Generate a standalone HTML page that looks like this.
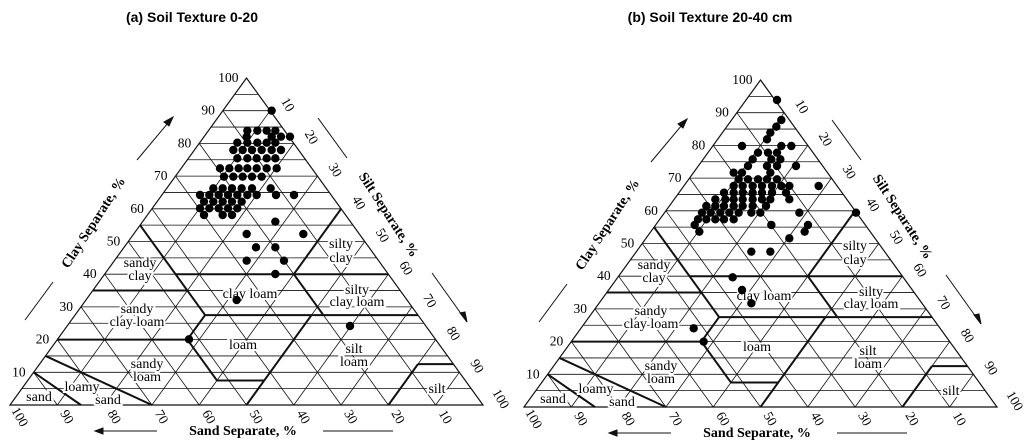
<!DOCTYPE html>
<html><head><meta charset="utf-8"><style>
html,body{margin:0;padding:0;background:#fff;width:1024px;height:442px;overflow:hidden}
svg{display:block}
.t{font-family:"Liberation Sans",Arial,sans-serif;font-weight:bold;font-size:14px}
.n{font-family:"Liberation Serif",serif;font-size:13.5px}
.ax{font-family:"Liberation Serif",serif;font-weight:bold;font-size:14px}
.r{font-family:"Liberation Serif",serif;font-size:14px;text-anchor:middle;paint-order:stroke;stroke:#fff;stroke-width:4px}
</style></head><body>
<svg id="s" width="1024" height="442" viewBox="0 0 1024 442" xmlns="http://www.w3.org/2000/svg">
<text class="t" x="192" y="22" text-anchor="middle">(a) Soil Texture 0-20</text>
<text class="t" x="710" y="22" text-anchor="middle">(b) Soil Texture 20-40 cm</text>
<g id="g1">
 <g class="tri" transform="translate(10,405)"></g>
 <g class="labs">
  <text class="n cl">10</text><text class="n cl">20</text><text class="n cl">30</text><text class="n cl">40</text><text class="n cl">50</text><text class="n cl">60</text><text class="n cl">70</text><text class="n cl">80</text><text class="n cl">90</text><text class="n cl">100</text>
  <text class="n sl">10</text><text class="n sl">20</text><text class="n sl">30</text><text class="n sl">40</text><text class="n sl">50</text><text class="n sl">60</text><text class="n sl">70</text><text class="n sl">80</text><text class="n sl">90</text><text class="n sl">100</text>
  <text class="n sd">10</text><text class="n sd">20</text><text class="n sd">30</text><text class="n sd">40</text><text class="n sd">50</text><text class="n sd">60</text><text class="n sd">70</text><text class="n sd">80</text><text class="n sd">90</text><text class="n sd">100</text>
  <text class="ax" text-anchor="middle" transform="translate(97,225) rotate(-57)">Clay Separate, %</text>
  <text class="ax" text-anchor="middle" transform="translate(385,217) rotate(57)">Silt Separate, %</text>
  <text class="ax" text-anchor="middle" x="243" y="435">Sand Separate, %</text>
  <text class="r" x="140" y="267">sandy</text><text class="r" x="140" y="280">clay</text>
  <text class="r" x="137" y="313">sandy</text><text class="r" x="137" y="326">clay loam</text>
  <text class="r" x="341" y="248">silty</text><text class="r" x="341" y="262">clay</text>
  <text class="r" x="250" y="298">clay loam</text>
  <text class="r" x="357" y="294">silty</text><text class="r" x="357" y="306">clay loam</text>
  <text class="r" x="243" y="349">loam</text>
  <text class="r" x="354" y="353">silt</text><text class="r" x="354" y="366">loam</text>
  <text class="r" x="147" y="368">sandy</text><text class="r" x="147" y="381">loam</text>
  <text class="r" x="82" y="391">loamy</text>
  <text class="r" x="39" y="401">sand</text><text class="r" x="108" y="404">sand</text>
  <text class="r" x="437" y="393">silt</text>
 </g>
</g>
<g id="g2" transform="translate(514,2)">
 <g class="tri" transform="translate(10,405)"></g>
 <g class="labs">
  <text class="n cl">10</text><text class="n cl">20</text><text class="n cl">30</text><text class="n cl">40</text><text class="n cl">50</text><text class="n cl">60</text><text class="n cl">70</text><text class="n cl">80</text><text class="n cl">90</text><text class="n cl">100</text>
  <text class="n sl">10</text><text class="n sl">20</text><text class="n sl">30</text><text class="n sl">40</text><text class="n sl">50</text><text class="n sl">60</text><text class="n sl">70</text><text class="n sl">80</text><text class="n sl">90</text><text class="n sl">100</text>
  <text class="n sd">10</text><text class="n sd">20</text><text class="n sd">30</text><text class="n sd">40</text><text class="n sd">50</text><text class="n sd">60</text><text class="n sd">70</text><text class="n sd">80</text><text class="n sd">90</text><text class="n sd">100</text>
  <text class="ax" text-anchor="middle" transform="translate(97,225) rotate(-57)">Clay Separate, %</text>
  <text class="ax" text-anchor="middle" transform="translate(385,217) rotate(57)">Silt Separate, %</text>
  <text class="ax" text-anchor="middle" x="243" y="435">Sand Separate, %</text>
  <text class="r" x="140" y="267">sandy</text><text class="r" x="140" y="280">clay</text>
  <text class="r" x="137" y="313">sandy</text><text class="r" x="137" y="326">clay loam</text>
  <text class="r" x="341" y="248">silty</text><text class="r" x="341" y="262">clay</text>
  <text class="r" x="250" y="298">clay loam</text>
  <text class="r" x="357" y="294">silty</text><text class="r" x="357" y="306">clay loam</text>
  <text class="r" x="243" y="349">loam</text>
  <text class="r" x="354" y="353">silt</text><text class="r" x="354" y="366">loam</text>
  <text class="r" x="147" y="368">sandy</text><text class="r" x="147" y="381">loam</text>
  <text class="r" x="82" y="391">loamy</text>
  <text class="r" x="39" y="401">sand</text><text class="r" x="108" y="404">sand</text>
  <text class="r" x="437" y="393">silt</text>
 </g>
</g>
</svg>
<script>
(function(){
var NS="http://www.w3.org/2000/svg",W=473,H=327;
function P(sand,clay){var si=100-sand-clay;return [(si+clay/2)/100*W,-clay/100*H];}
function el(p,n,a){var e=document.createElementNS(NS,n);for(var k in a)e.setAttribute(k,a[k]);p.appendChild(e);return e;}
function line(p,a,b,w){el(p,"line",{x1:a[0],y1:a[1],x2:b[0],y2:b[1],stroke:"#111","stroke-width":w});}
var dots1=[[815,152],[742,212],[772,212],[800,212],[826,212],[740,230],[815,230],[843,230],[870,230],[712,248],[742,248],[772,248],[800,248],[826,248],[700,270],[728,270],[756,270],[785,270],[815,270],[843,270],[712,295],[742,295],[770,295],[800,295],[826,295],[660,325],[688,325],[716,325],[742,325],[770,325],[800,325],[830,325],[672,350],[700,350],[728,350],[756,350],[785,350],[640,385],[668,385],[696,385],[725,385],[756,385],[812,385],[600,405],[628,405],[656,405],[684,405],[712,405],[742,405],[770,405],[828,405],[882,405],[612,425],[640,425],[668,425],[696,425],[725,425],[600,445],[628,445],[656,445],[684,445],[712,445],[612,465],[668,465],[696,465],[826,485],[740,522],[910,522],[768,562],[826,562],[740,602],[852,602],[826,642],[710,720],[1050,798],[567,838]];
var dots2=[[795,120],[808,180],[793,200],[775,218],[765,238],[690,258],[808,258],[838,258],[738,278],[768,278],[795,278],[722,298],[778,298],[805,298],[708,318],[765,318],[795,318],[852,318],[690,338],[775,338],[665,338],[680,358],[708,358],[738,358],[765,358],[795,358],[665,378],[692,378],[722,378],[750,378],[780,378],[808,378],[832,378],[920,378],[636,398],[665,398],[692,398],[722,398],[750,398],[780,398],[822,398],[610,418],[640,418],[665,418],[692,418],[722,418],[750,418],[775,418],[832,418],[583,438],[610,438],[636,438],[665,438],[692,438],[722,438],[762,438],[570,458],[596,458],[625,458],[652,458],[680,458],[718,458],[745,458],[862,458],[1032,458],[558,478],[583,478],[610,478],[636,478],[665,478],[548,495],[778,495],[888,495],[562,515],[878,515],[832,535],[718,575],[775,575],[662,652],[690,690],[718,730],[545,805],[575,845]];
var B=[[[85,0],[90,10]],[[70,0],[85,15]],[[80,20],[52.5,20]],[[52.5,20],[52.5,7.5]],[[52.5,7.5],[42.5,7.5]],[[50,0],[22.5,27.5]],[[52.5,20],[45,27.5]],[[45,27.5],[0,27.5]],[[65,35],[45,35]],[[45,27.5],[45,55]],[[45,40],[0,40]],[[20,27.5],[20,40]],[[20,40],[0,60]],[[20,0],[7.5,12.5]],[[7.5,12.5],[0,12.5]]];
[["g1",dots1,0,60],["g2",dots2,2,58]].forEach(function(cfg){
 var g=document.getElementById(cfg[0]),t=g.querySelector(".tri");
 var gg=el(t,"g",{});
 for(var c=5;c<100;c+=5){line(gg,P(100-c,c),P(0,c),0.8);}
 for(var s=10;s<100;s+=10){line(gg,P(s,0),P(s,100-s),0.8);}
 for(var si=10;si<100;si+=10){line(gg,P(100-si,0),P(0,100-si),0.8);}
 el(t,"polygon",{points:"0,0 "+W+",0 "+(W/2)+","+(-H),fill:"none",stroke:"#111","stroke-width":1.2});
 B.forEach(function(b){line(t,P(b[0][0],b[0][1]),P(b[1][0],b[1][1]),2);});
 var L=el(g,"g",{stroke:"#111","stroke-width":1,fill:"#111"});
 line(L,[137,160],[173,117],1);line(L,[25,320],[53,282],1);
 line(L,[318,118],[347,158],1);line(L,[432,273],[467,322],1);
 line(L,[157,431],[95,431],1);line(L,[323,431],[393,431],1);
 el(L,"polygon",{points:"173,117 164,122 169,126"});
 el(L,"polygon",{points:"467,322 460,313 465,312"});
 el(L,"polygon",{points:"95,431 103,428 103,434"});
 cfg[1].forEach(function(d){el(g,"circle",{cx:d[0]/3-cfg[2],cy:d[1]/3+cfg[3],r:4.2,fill:"#000"});});
 var cl=g.querySelectorAll(".cl"),sl=g.querySelectorAll(".sl"),sd=g.querySelectorAll(".sd");
 for(var i=0;i<10;i++){var v=(i+1)*10;
  var p=P(100-v,v);cl[i].setAttribute("x",10+p[0]-8);cl[i].setAttribute("y",405+p[1]+4);cl[i].setAttribute("text-anchor","end");
  p=P(0,100-v);sl[i].setAttribute("text-anchor","middle");sl[i].setAttribute("transform","translate("+(10+p[0]+14)+","+(405+p[1]-4)+") rotate(60)");
  p=P(v,0);sd[i].setAttribute("text-anchor","middle");sd[i].setAttribute("transform","translate("+(10+p[0]+6)+","+(405+14)+") rotate(60)");
 }
});
})();
</script>
</body></html>
